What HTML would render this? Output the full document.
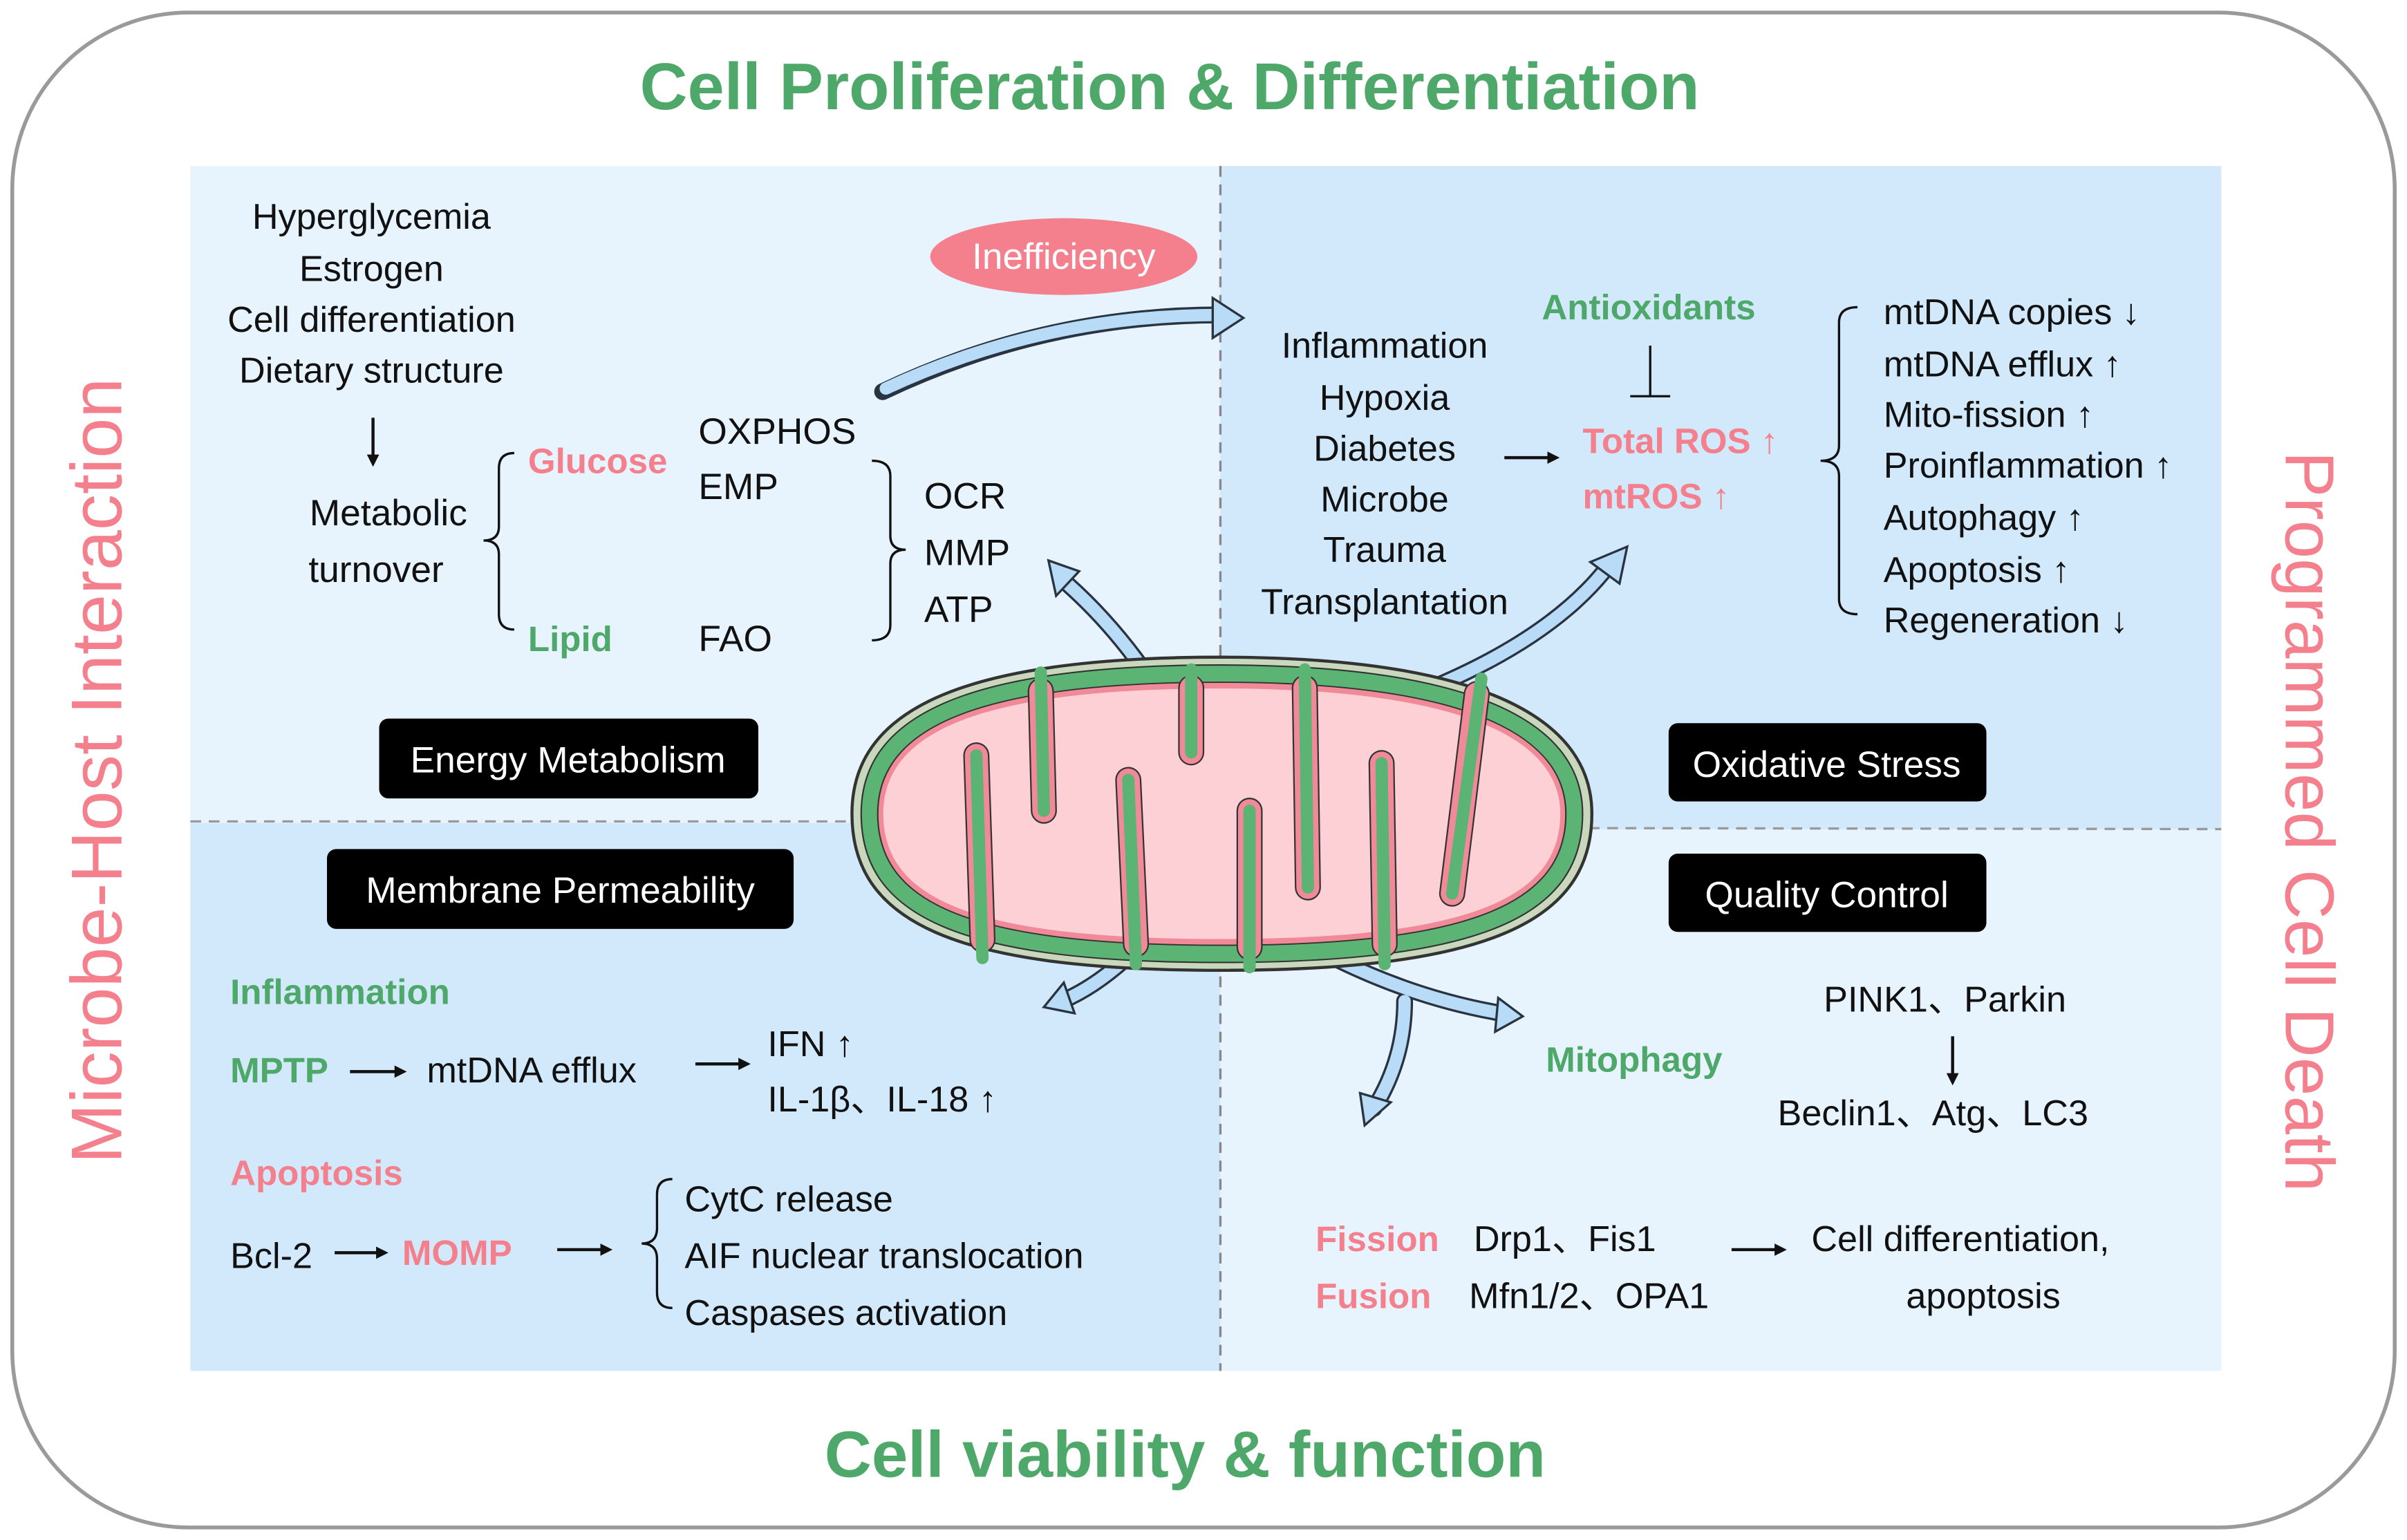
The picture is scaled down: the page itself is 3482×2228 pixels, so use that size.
<!DOCTYPE html>
<html><head><meta charset="utf-8"><style>html,body{margin:0;padding:0;background:#fff}svg{display:block}</style></head>
<body>
<svg width="3482" height="2228" viewBox="0 0 1568 1003" xmlns="http://www.w3.org/2000/svg" font-family="'Liberation Sans','Noto Sans CJK SC',sans-serif">
<defs>
<marker id="ah" markerWidth="8" markerHeight="8" refX="6" refY="4" orient="auto" markerUnits="userSpaceOnUse"><path d="M0,0 L8,4 L0,8 z" fill="#111"/></marker>
<path id="mito" d="M795,428 C970,428 1037,470 1037,530 C1037,600 970,632 795,632 C620,632 555,600 555,530 C555,465 620,428 795,428 Z"/>
</defs>
<rect x="0" y="0" width="1568" height="1003" fill="#fff"/>
<rect x="8" y="8" width="1552" height="987" rx="115" fill="#fff" stroke="#9a9a9a" stroke-width="2.5"/>
<rect x="124" y="108" width="671" height="428" fill="#e7f3fd"/>
<rect x="795" y="108" width="652" height="432" fill="#d2e8fb"/>
<rect x="124" y="536" width="671" height="357" fill="#d2e8fb"/>
<rect x="795" y="540" width="652" height="353" fill="#e7f3fd"/>
<line x1="795" y1="108" x2="795" y2="893" stroke="#888" stroke-width="1.5" stroke-dasharray="7,5"/>
<line x1="124" y1="535" x2="795" y2="535" stroke="#999" stroke-width="1.5" stroke-dasharray="7,5"/>
<line x1="795" y1="539" x2="1447" y2="540" stroke="#999" stroke-width="1.5" stroke-dasharray="7,5"/>
<g fill="#4ea869" font-weight="bold" text-anchor="middle">
<text x="762" y="71" font-size="43">Cell Proliferation &amp; Differentiation</text>
<text x="772" y="962" font-size="42.5">Cell viability &amp; function</text>
</g>
<g fill="#f4808e" text-anchor="middle">
<text transform="translate(79,502) rotate(-90)" font-size="47">Microbe-Host Interaction</text>
<text transform="translate(1489,535) rotate(90)" font-size="45">Programmed Cell Death</text>
</g>
<g fill="none" stroke-linecap="round">
<g stroke="#2a3340" stroke-width="11">
<path d="M575,255 Q680,205 795,205"/>
<path d="M772,480 Q740,420 695,380"/>
<path d="M935,447 Q1010,415 1045,372"/>
<path d="M748,610 Q720,640 692,652"/>
<path d="M865,622 Q920,650 978,660"/>
<path d="M915,652 Q915,690 895,722"/>
</g>
<g stroke="#b8dcf7" stroke-width="8">
<path d="M577,253 Q680,205 795,205"/>
<path d="M772,480 Q740,420 695,380"/>
<path d="M935,447 Q1010,415 1045,372"/>
<path d="M748,610 Q720,640 692,652"/>
<path d="M865,622 Q920,650 978,660"/>
<path d="M915,652 Q915,690 895,722"/>
</g>
</g>
<g fill="#b8dcf7" stroke="#2a3340" stroke-width="1.5">
<path d="M790,194 L810,207 L790,220 z"/>
<path d="M683,365 L703,372 L688,388 z"/>
<path d="M1060,356 L1055,380 L1036,366 z"/>
<path d="M680,656 L693,640 L700,660 z"/>
<path d="M992,662 L974,672 L976,650 z"/>
<path d="M889,733 L886,712 L906,718 z"/>
</g>
<!-- mitochondrion -->
<use href="#mito" fill="#c9d8bc" stroke="#333" stroke-width="2"/>
<use href="#mito" fill="#5bb374" stroke="#333" stroke-width="1" transform="translate(795,530) scale(0.975,0.95) translate(-795,-530)"/>
<use href="#mito" fill="#f08a98" stroke="#333" stroke-width="1" transform="translate(795,530) scale(0.93,0.84) translate(-795,-530)"/>
<use href="#mito" fill="#fdd0d6" transform="translate(795,530) scale(0.915,0.8) translate(-795,-530)"/>
<g fill="none" stroke-linecap="round" stroke-linejoin="round">
<g stroke="#333" stroke-width="17">
<path d="M640,612 L636,492"/><path d="M678,450 L680,528"/><path d="M740,615 L735,508"/><path d="M776,448 L776,490"/><path d="M814,617 L814,528"/><path d="M850,448 L852,578"/><path d="M902,615 L900,497"/><path d="M962,452 L946,582"/>
</g>
<g stroke="#f08a98" stroke-width="15">
<path d="M640,612 L636,492"/><path d="M678,450 L680,528"/><path d="M740,615 L735,508"/><path d="M776,448 L776,490"/><path d="M814,617 L814,528"/><path d="M850,448 L852,578"/><path d="M902,615 L900,497"/><path d="M962,452 L946,582"/>
</g>
<g stroke="#5bb374" stroke-width="8">
<path d="M640,624 L636,492"/><path d="M678,438 L680,528"/><path d="M740,628 L735,508"/><path d="M776,436 L776,490"/><path d="M814,630 L814,528"/><path d="M850,436 L852,578"/><path d="M902,628 L900,497"/><path d="M965,442 L946,582"/>
</g>
</g>
<ellipse cx="693" cy="167" rx="87" ry="25" fill="#f4808e"/>
<text x="693" y="175" font-size="24" fill="#fff" text-anchor="middle">Inefficiency</text>
<g fill="#000">
<rect x="247" y="468" width="247" height="52" rx="6"/>
<rect x="1087" y="471" width="207" height="51" rx="6"/>
<rect x="213" y="553" width="304" height="52" rx="6"/>
<rect x="1087" y="556" width="207" height="51" rx="6"/>
</g>
<g fill="#fff" font-size="24" text-anchor="middle">
<text x="370" y="503">Energy Metabolism</text>
<text x="1190" y="506">Oxidative Stress</text>
<text x="365" y="588">Membrane Permeability</text>
<text x="1190" y="591">Quality Control</text>
</g>
<g font-size="23.5" fill="#111">
<g text-anchor="middle">
<text x="242" y="149">Hyperglycemia</text>
<text x="242" y="183">Estrogen</text>
<text x="242" y="216">Cell differentiation</text>
<text x="242" y="249">Dietary structure</text>
<text x="253" y="342" font-size="24">Metabolic</text>
<text x="245" y="379" font-size="24">turnover</text>
<text x="902" y="233">Inflammation</text>
<text x="902" y="267">Hypoxia</text>
<text x="902" y="300">Diabetes</text>
<text x="902" y="333">Microbe</text>
<text x="902" y="366">Trauma</text>
<text x="902" y="400">Transplantation</text>
<text x="1292" y="852">apoptosis</text>
</g>
<text x="455" y="289" font-size="24">OXPHOS</text>
<text x="455" y="325" font-size="24">EMP</text>
<text x="455" y="424" font-size="24">FAO</text>
<text x="602" y="331" font-size="24">OCR</text>
<text x="602" y="368" font-size="24">MMP</text>
<text x="602" y="405" font-size="24">ATP</text>
<text x="1227" y="211">mtDNA copies ↓</text>
<text x="1227" y="245">mtDNA efflux ↑</text>
<text x="1227" y="278">Mito-fission ↑</text>
<text x="1227" y="311">Proinflammation ↑</text>
<text x="1227" y="345">Autophagy ↑</text>
<text x="1227" y="379">Apoptosis ↑</text>
<text x="1227" y="412">Regeneration ↓</text>
<text x="278" y="705">mtDNA efflux</text>
<text x="500" y="688">IFN ↑</text>
<text x="500" y="724">IL-1β、IL-18 ↑</text>
<text x="150" y="826">Bcl-2</text>
<text x="446" y="789">CytC release</text>
<text x="446" y="826">AIF nuclear translocation</text>
<text x="446" y="863">Caspases activation</text>
<text x="1188" y="659">PINK1、Parkin</text>
<text x="1158" y="733">Beclin1、Atg、LC3</text>
<text x="960" y="815">Drp1、Fis1</text>
<text x="957" y="852">Mfn1/2、OPA1</text>
<text x="1180" y="815">Cell differentiation,</text>
</g>
<g font-size="23" font-weight="bold">
<text x="344" y="308" fill="#f4808e">Glucose</text>
<text x="344" y="424" fill="#4ea869">Lipid</text>
<text x="1074" y="208" fill="#4ea869" text-anchor="middle">Antioxidants</text>
<text x="1031" y="295" fill="#f4808e">Total ROS ↑</text>
<text x="1031" y="331" fill="#f4808e">mtROS ↑</text>
<text x="150" y="654" fill="#4ea869">Inflammation</text>
<text x="150" y="705" fill="#4ea869">MPTP</text>
<text x="150" y="772" fill="#f4808e">Apoptosis</text>
<text x="262" y="824" fill="#f4808e">MOMP</text>
<text x="1007" y="698" fill="#4ea869">Mitophagy</text>
<text x="857" y="815" fill="#f4808e">Fission</text>
<text x="857" y="852" fill="#f4808e">Fusion</text>
</g>
<g stroke="#111" stroke-width="2" fill="none">
<line x1="243" y1="272" x2="243" y2="302" marker-end="url(#ah)"/>
<line x1="980" y1="298" x2="1014" y2="298" marker-end="url(#ah)"/>
<line x1="228" y1="698" x2="263" y2="698" marker-end="url(#ah)"/>
<line x1="453" y1="693" x2="487" y2="693" marker-end="url(#ah)"/>
<line x1="218" y1="816" x2="251" y2="816" marker-end="url(#ah)"/>
<line x1="363" y1="814" x2="397" y2="814" marker-end="url(#ah)"/>
<line x1="1272" y1="675" x2="1272" y2="705" marker-end="url(#ah)"/>
<line x1="1128" y1="814" x2="1162" y2="814" marker-end="url(#ah)"/>
<line x1="1075" y1="225" x2="1075" y2="258" stroke-width="1.5"/>
<line x1="1062" y1="258" x2="1088" y2="258" stroke-width="1.5"/>
<g stroke-width="1.5">
<path d="M335,295 Q325,295 325,305 L325,343 Q325,352 315,352 Q325,352 325,361 L325,400 Q325,410 335,410"/>
<path d="M568,300 Q580,300 580,310 L580,349 Q580,358 590,358 Q580,358 580,367 L580,407 Q580,417 568,417"/>
<path d="M1210,200 Q1198,200 1198,210 L1198,290 Q1198,300 1186,300 Q1198,300 1198,310 L1198,390 Q1198,400 1210,400"/>
<path d="M438,768 Q428,768 428,778 L428,800 Q428,810 418,810 Q428,810 428,820 L428,842 Q428,852 438,852"/>
</g>
</g>
</svg>
</body></html>
